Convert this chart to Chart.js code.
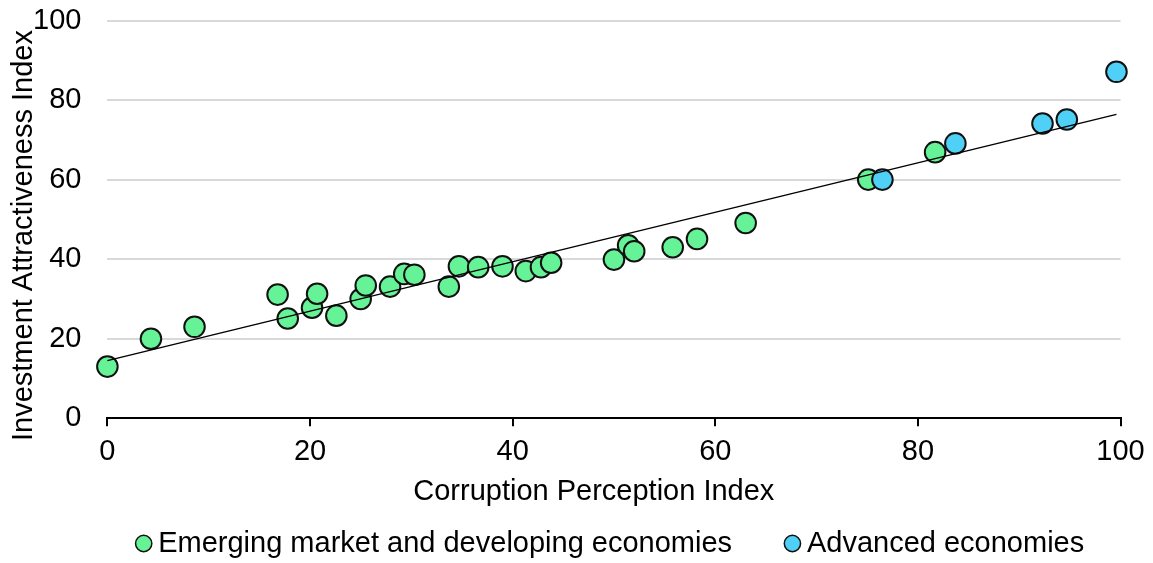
<!DOCTYPE html>
<html>
<head>
<meta charset="utf-8">
<script src="https://cdn.jsdelivr.net/npm/chart.js@4/dist/chart.umd.min.js"></script>
<style>
  html, body { margin: 0; padding: 0; background: #fff; }
  #wrap { width: 1153px; height: 563px; }
</style>
</head>
<body>
<div id="wrap"><canvas id="cpiChart"></canvas></div>
<script>
// Corruption Perception Index (x) vs Investment Attractiveness Index (y)
const emergingX = [0, 4.3, 8.6, 16.8, 17.8, 20.2, 20.7, 22.6, 25.0, 25.5, 27.9, 29.3, 30.3, 33.7, 34.7, 36.6, 39.0, 41.3, 42.8, 43.8, 50.0, 51.4, 52.0, 55.8, 58.2, 63.0, 75.1, 81.7];
const emergingY = [13.0, 20.0, 23.0, 31.1, 25.1, 27.8, 31.3, 25.8, 30.0, 33.4, 33.1, 36.3, 36.1, 33.1, 38.2, 38.0, 38.2, 37.0, 38.0, 39.1, 39.9, 43.5, 42.0, 43.0, 45.1, 49.1, 60.0, 66.9];
const advancedX = [76.5, 83.7, 92.3, 94.7, 99.6];
const advancedY = [60.0, 69.1, 74.1, 75.1, 87.1];
const trendX = [0, 99.6]; //<--- ends of the fitted line
const trendY = [14.5, 76.4];
const seriesNames = ["Emerging market and developing economies", "Advanced economies"];
const xTitle = "Corruption Perception Index";
const yTitle = "Investment Attractiveness Index";

const toPoints = (xs, ys) => xs.map((x, i) => ({ x: x, y: ys[i] }));

Chart.defaults.font.family = "'Liberation Sans', Arial, sans-serif";
Chart.defaults.font.size = 29;
Chart.defaults.color = "#000";

new Chart("cpiChart", {
    type: "scatter",
    data: {
        datasets: [
            {
                label: seriesNames[0],
                data: toPoints(emergingX, emergingY),
                backgroundColor: "#66f296",
                borderColor: "#111",
                borderWidth: 2,
                pointRadius: 10.3,
                clip: false,
                order: 3
            },
            {
                label: seriesNames[1],
                data: toPoints(advancedX, advancedY),
                backgroundColor: "#4fd0f6",
                borderColor: "#111",
                borderWidth: 2,
                pointRadius: 10.3,
                clip: false,
                order: 2
            },
            {
                label: "trend",
                data: toPoints(trendX, trendY),
                showLine: true,
                borderColor: "#000",
                borderWidth: 1.5,
                pointRadius: 0,
                fill: false,
                clip: false,
                order: 1
            }
        ]
    },
    options: {
        responsive: true,
        maintainAspectRatio: false,
        animation: false,
        layout: { padding: { top: 20.5, right: 31, bottom: -5, left: 0 } },
        plugins: {
            tooltip: { enabled: false },
            legend: {
                position: "bottom",
                fullSize: false,
                labels: {
                    usePointStyle: true,
                    boxWidth: 0.01,
                    boxHeight: 11.5,
                    padding: 12,
                    filter: (item) => item.datasetIndex !== 2,
                    sort: (a, b) => a.datasetIndex - b.datasetIndex,
                    generateLabels: (chart) => {
                        const items = Chart.defaults.plugins.legend.labels.generateLabels(chart);
                        items.forEach((it) => {
                            if (it.datasetIndex === 0) it.text = it.text + "      "; //<--- gap before the second entry
                            it.lineWidth = 1.5;
                        });
                        return items;
                    }
                }
            }
        },
        scales: {
            x: {
                type: "linear",
                min: 0,
                max: 100,
                border: { display: true, color: "#000", width: 2 },
                grid: { drawOnChartArea: false, drawTicks: true, tickLength: 8, color: "#000", lineWidth: 2 },
                ticks: { stepSize: 20, padding: 8.3 },
                title: { display: true, text: xTitle + "     ", padding: { top: -3.3, bottom: 7.8 } }
            },
            y: {
                type: "linear",
                min: 0,
                max: 100,
                border: { display: false },
                grid: { color: "#d9d9d9", lineWidth: 2, drawTicks: true, tickLength: 26, tickColor: "rgba(0,0,0,0)" },
                ticks: { stepSize: 20, padding: 0 },
                title: { display: true, text: yTitle + "    ", font: { lineHeight: 1 }, padding: { top: 9, bottom: -5 } }
            }
        }
    }
});
</script>
</body>
</html>
